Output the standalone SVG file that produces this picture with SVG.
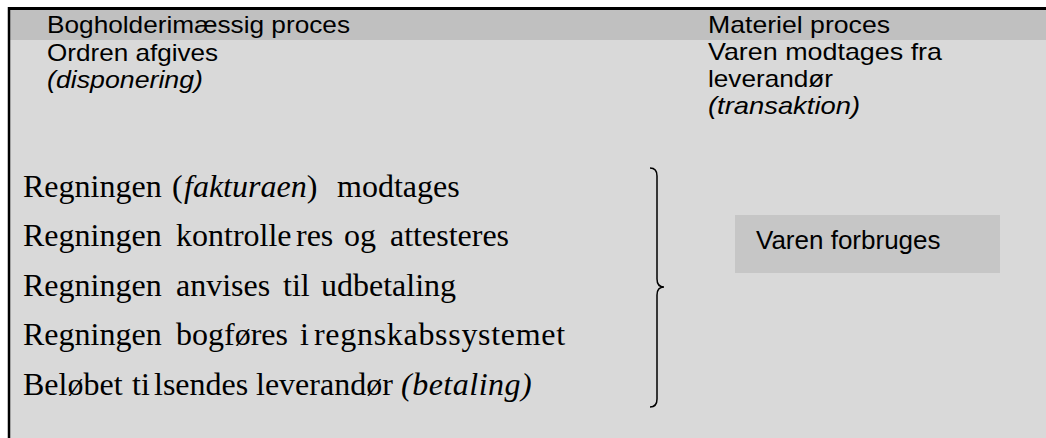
<svg xmlns="http://www.w3.org/2000/svg" width="1046" height="438" viewBox="0 0 1046 438">
<style>
.sans{font-family:"Liberation Sans",Arial,sans-serif;fill:#000;font-size:24px}
.serif{font-family:"Liberation Serif","Times New Roman",serif;fill:#000;font-size:32px}
.it{font-style:italic}
</style>
<rect x="0" y="0" width="1046" height="438" fill="#ffffff"/>
<g id="background">
<rect x="9" y="9" width="1037" height="429" fill="#d9d9d9"/>
<rect x="9" y="9" width="1037" height="31" fill="#c0c0c0"/>
<line x1="8" y1="8.5" x2="1046" y2="8.5" stroke="#000" stroke-width="3"/>
<line x1="9" y1="7" x2="9" y2="438" stroke="#000" stroke-width="2.5"/>
</g>
<g id="header-left">
<text class="sans" x="47" y="33" textLength="303" lengthAdjust="spacingAndGlyphs">Bogholderimæssig proces</text>
<text class="sans" x="47" y="61" textLength="171" lengthAdjust="spacingAndGlyphs">Ordren afgives</text>
<text class="sans it" x="47" y="88" textLength="156" lengthAdjust="spacingAndGlyphs">(disponering)</text>
</g>
<g id="header-right">
<text class="sans" x="708" y="33" textLength="182" lengthAdjust="spacingAndGlyphs">Materiel proces</text>
<text class="sans" x="708" y="60" textLength="234" lengthAdjust="spacingAndGlyphs">Varen modtages fra</text>
<text class="sans" x="708" y="87" textLength="125" lengthAdjust="spacingAndGlyphs">leverandør</text>
<text class="sans it" x="708" y="113.5" textLength="152" lengthAdjust="spacingAndGlyphs">(transaktion)</text>
</g>
<g id="steps">
<text class="serif" x="23" y="196.5">Regningen <tspan x="172">(</tspan><tspan class="it" x="184">fakturaen</tspan>) <tspan x="337">modtages</tspan></text>
<text class="serif" x="23" y="246">Regningen <tspan x="176">kontrolle</tspan> <tspan x="296">res</tspan> <tspan x="344">og</tspan> <tspan x="390">attesteres</tspan></text>
<text class="serif" x="23" y="295.5">Regningen <tspan x="176">anvises</tspan> <tspan x="283">til</tspan> <tspan x="321">udbetaling</tspan></text>
<text class="serif" x="23" y="345">Regningen <tspan x="176">bogføres</tspan> <tspan x="300">i</tspan> <tspan x="314" style="letter-spacing:0.7px">regnskabssystemet</tspan></text>
<text class="serif" x="23" y="394.5">Beløbet <tspan x="132">ti</tspan> <tspan x="154">lsendes</tspan> <tspan x="256">leverandør</tspan> <tspan class="it" x="401" style="letter-spacing:0.5px">(betaling)</tspan></text>
</g>
<g id="connectors">
<path d="M650,168 Q657,168 657,176 L657,279 Q657,287 664,287 Q657,287 657,295 L657,399 Q657,407 650,407" fill="none" stroke="#000" stroke-width="1.5"/>
</g>
<g id="consumption">
<rect x="735" y="215" width="265" height="58" fill="#c6c6c6"/>
<text class="sans" x="756" y="249" style="font-size:26px">Varen forbruges</text>
</g>
</svg>
